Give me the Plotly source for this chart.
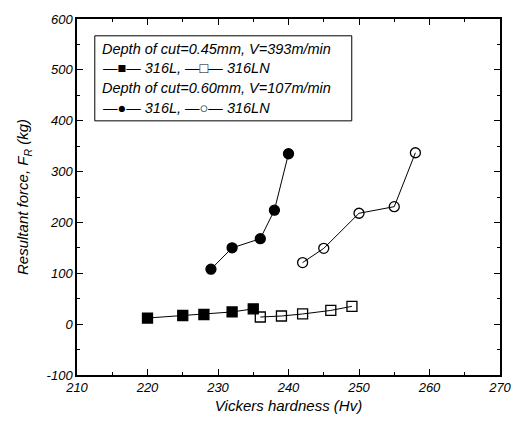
import plotly.graph_objects as go

# 0.45 mm, V=393 m/min
hv_316L_a = [220, 225, 228, 232, 235]
fr_316L_a = [12, 17, 19, 24, 30]
hv_316LN_a = [236, 239, 242, 246, 249]
fr_316LN_a = [14, 16, 20, 27, 35]
# 0.60 mm, V=107 m/min
hv_316L_b = [229, 232, 236, 238, 240]
fr_316L_b = [108, 150, 168, 224, 335]
hv_316LN_b = [242, 245, 250, 255, 258]
fr_316LN_b = [121, 149, 218, 231, 337]

x_ticks = [210, 220, 230, 240, 250, 260, 270]
y_ticks = [-100, 0, 100, 200, 300, 400, 500, 600]
y_ticktext = ["-100", "0", "100", "200", "300", "400", "500", "600"]

legend_lines = [
    "Depth of cut=0.45mm, V=393m/min",
    "\u2014\u25A0\u2014 316L, \u2014\u25A1\u2014 316LN",
    "Depth of cut=0.60mm, V=107m/min",
    "\u2014\u25CF\u2014 316L, \u2014\u25CB\u2014 316LN",
]

fig = go.Figure()
series = [
    (hv_316L_a, fr_316L_a, "square"),
    (hv_316LN_a, fr_316LN_a, "square-open"),
    (hv_316L_b, fr_316L_b, "circle"),
    (hv_316LN_b, fr_316LN_b, "circle-open"),
]
for xs, ys, sym in series:
    fig.add_trace(go.Scatter(
        x=xs, y=ys, mode="lines+markers",
        line=dict(color="black", width=1),
        marker=dict(symbol=sym, size=10, color="black",
                    line=dict(color="black", width=1.3)),
        showlegend=False,
    ))

FAM = "Liberation Sans, Arial, sans-serif"


def f(size):
    return dict(family=FAM, size=size, color="black", style="italic")


fig.add_shape(type="rect", xref="paper", yref="paper",
              x0=(95 - 77) / 428, x1=(355 - 77) / 428,
              y0=(375 - 118) / 360, y1=(375 - 32) / 360,
              line=dict(color="black", width=1), fillcolor="white", layer="below")
for i, t in enumerate(legend_lines):
    fig.add_annotation(xref="paper", yref="paper",
                       x=(100 - 77) / 428, y=(375 - (45 + 20 * i)) / 360,
                       text=t, showarrow=False, xanchor="left", yanchor="middle",
                       font=f(14.5))

axis_common = dict(
    showline=True, linecolor="black", linewidth=1.5, mirror="ticks",
    ticks="inside", ticklen=6, tickcolor="black", tickwidth=1,
    showgrid=False, zeroline=False, tickfont=f(13),
)
fig.update_layout(
    width=524, height=426,
    margin=dict(l=77, r=19, t=15, b=51),
    paper_bgcolor="white", plot_bgcolor="white",
    font=f(13),
    xaxis=dict(range=[210, 270], tickvals=x_ticks,
               ticktext=[str(v) for v in x_ticks],
               minor=dict(dtick=5, ticks="inside", ticklen=3, tickcolor="black"),
               title=dict(text="Vickers hardness (Hv)", font=f(15), standoff=6),
               **axis_common),
    yaxis=dict(range=[-100, 600], tickvals=y_ticks, ticktext=y_ticktext,
               minor=dict(dtick=50, ticks="inside", ticklen=3, tickcolor="black"),
               title=dict(text="Resultant force, F<sub>R</sub> (kg)", font=f(15), standoff=14),
               **axis_common),
)
fig.write_html("out.html")
